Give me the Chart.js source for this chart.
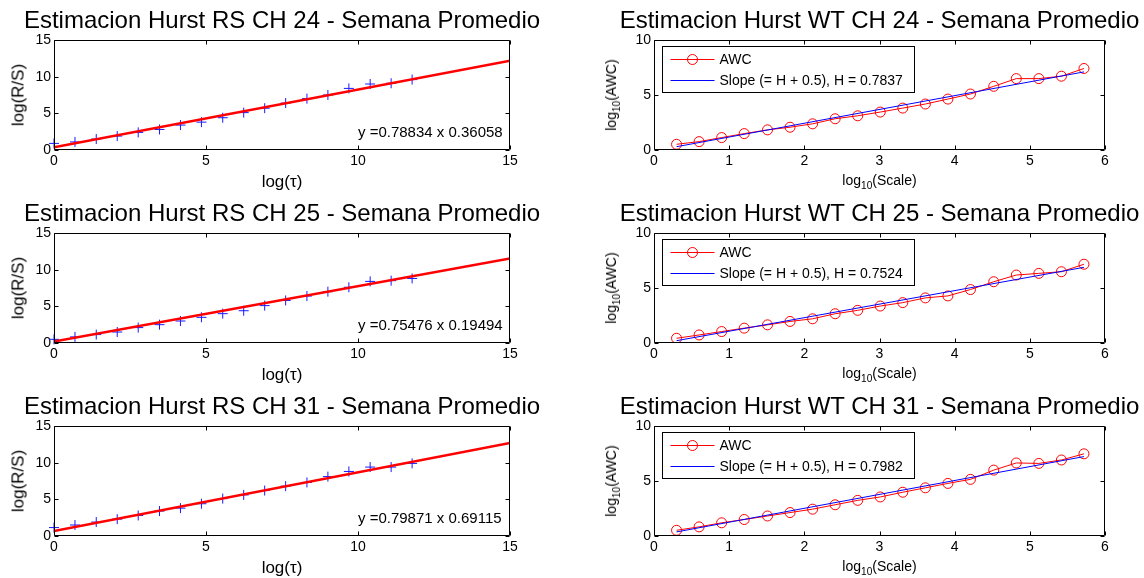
<!DOCTYPE html>
<html>
<head>
<meta charset="utf-8">
<script src="https://cdn.jsdelivr.net/npm/chart.js@4.4.0/dist/chart.umd.min.js"></script>
<style>
  body { margin: 0; background: #fff; font-family: "Liberation Sans", Arial, sans-serif; color: #000; }
  #page { position: relative; width: 1144px; height: 578px; overflow: hidden; }
  #page canvas { position: absolute; }
  .title { position: absolute; font-size: 24px; line-height: 24px; white-space: nowrap; transform: translateX(-50%); }
  .xlab, .ylab { position: absolute; white-space: nowrap; line-height: 1; }
  .xlab { transform: translate(-50%, -50%); }
  .ylab { transform: translate(-50%, -50%) rotate(-90deg); }
  sub { font-size: 72%; vertical-align: -0.35em; line-height: 0; }
</style>
</head>
<body>
<div id="page"></div>
<script>
// ---- R/S estimates (left column) ----
const rsTau = [0, 0.69, 1.39, 2.08, 2.77, 3.47, 4.16, 4.85, 5.55, 6.24, 6.93, 7.62, 8.32, 9.01, 9.70, 10.40, 11.09, 11.78];
const rsCh24 = [0.9, 1.1, 1.5, 1.9, 2.4, 2.8, 3.4, 3.8, 4.4, 5.1, 5.7, 6.4, 7.0, 7.5, 8.4, 9.0, 9.1, 9.6];
const rsCh25 = [0.5, 0.83, 1.15, 1.5, 2.1, 2.5, 3.0, 3.5, 4.0, 4.4, 5.1, 5.8, 6.4, 7.0, 7.6, 8.4, 8.5, 8.8];
const rsCh31 = [1.15, 1.5, 1.9, 2.3, 2.8, 3.4, 3.8, 4.4, 5.1, 5.6, 6.2, 6.8, 7.3, 8.1, 8.8, 9.4, 9.4, 9.9];

// fitted lines, end points at log(tau) = 0 and 15
const fitX = [0, 15];
const fitCh24 = [0.361, 12.186];
const fitCh25 = [0.195, 11.516];
const fitCh31 = [0.691, 12.672];
const eqCh24 = 'y =0.78834 x 0.36058';
const eqCh25 = 'y =0.75476 x 0.19494';
const eqCh31 = 'y =0.79871 x 0.69115';

const rsXTicks = [0, 5, 10, 15];
const rsYTicks = [0, 5, 10, 15];

// ---- wavelet estimates (right column) ----
const wtScale = [0.30, 0.60, 0.90, 1.20, 1.51, 1.81, 2.11, 2.41, 2.71, 3.01, 3.31, 3.61, 3.91, 4.21, 4.52, 4.82, 5.12, 5.42, 5.72];
const awcCh24 = [0.52, 0.76, 1.13, 1.49, 1.83, 2.07, 2.38, 2.84, 3.11, 3.45, 3.81, 4.18, 4.63, 5.09, 5.79, 6.49, 6.49, 6.71, 7.41];
const awcCh25 = [0.43, 0.73, 1.04, 1.35, 1.65, 1.96, 2.20, 2.66, 2.97, 3.36, 3.67, 4.10, 4.28, 4.86, 5.57, 6.18, 6.33, 6.48, 7.16];
const awcCh31 = [0.52, 0.83, 1.20, 1.50, 1.82, 2.13, 2.44, 2.84, 3.24, 3.55, 3.98, 4.38, 4.78, 5.15, 5.99, 6.64, 6.60, 6.91, 7.47];

const slopeX = [0.30, 5.72];
const slopeCh24 = [0.30, 7.10];
const slopeCh25 = [0.21, 6.88];
const slopeCh31 = [0.37, 7.22];
const hCh24 = '0.7837';
const hCh25 = '0.7524';
const hCh31 = '0.7982';

const wtXTicks = [0, 1, 2, 3, 4, 5, 6];
const wtYTicks = [0, 5, 10];

const FONT = '"Liberation Sans", Arial, sans-serif';
Chart.defaults.color = '#000';
Chart.defaults.font.family = FONT;

const toXY = (xs, ys) => xs.map((v, i) => ({ x: v, y: ys[i] }));

// box with inward ticks, equation text and a legend inside the axes
const framePlugin = {
    id: 'frame',
    afterDatasetsDraw(chart, args, opts) {
        const { ctx, chartArea: a, scales: { x, y } } = chart;
        const L = Math.round(a.left) + 0.5, R = Math.round(a.right) - 0.5;
        const T = Math.round(a.top) + 0.5, B = Math.round(a.bottom) - 0.5;
        ctx.save();
        ctx.strokeStyle = '#000';
        ctx.lineWidth = 1;
        ctx.beginPath();
        ctx.rect(L, T, R - L, B - T);
        x.ticks.forEach(t => {
            const px = Math.round(x.getPixelForValue(t.value)) + 0.5;
            ctx.moveTo(px, B); ctx.lineTo(px, B - 4);
            ctx.moveTo(px, T); ctx.lineTo(px, T + 4);
        });
        y.ticks.forEach(t => {
            const py = Math.round(y.getPixelForValue(t.value)) + 0.5;
            ctx.moveTo(L, py); ctx.lineTo(L + 4, py);
            ctx.moveTo(R, py); ctx.lineTo(R - 4, py);
        });
        ctx.stroke();

        if (opts.eq) {
            ctx.fillStyle = '#000';
            ctx.font = '15px ' + FONT;
            ctx.textBaseline = 'middle';
            ctx.textAlign = 'left';
            ctx.fillText(opts.eq.text, x.getPixelForValue(opts.eq.x), y.getPixelForValue(opts.eq.y));
        }

        if (opts.legend) {
            const bx = Math.round(a.left) + 8.5, by = Math.round(a.top) + 6.5, bw = 252, bh = 46;
            ctx.fillStyle = '#fff';
            ctx.fillRect(bx, by, bw, bh);
            ctx.strokeStyle = '#000';
            ctx.strokeRect(bx, by, bw, bh);
            ctx.font = '14px ' + FONT;
            ctx.textBaseline = 'middle';
            chart.data.datasets.forEach((ds, i) => {
                const ry = Math.round(by + 12 + i * 21) + 0.5;
                ctx.strokeStyle = ds.borderColor;
                ctx.lineWidth = 1;
                ctx.beginPath();
                ctx.moveTo(bx + 8, ry); ctx.lineTo(bx + 52, ry);
                ctx.stroke();
                if (ds.pointRadius > 0) {
                    ctx.beginPath();
                    ctx.arc(bx + 30, ry, 5, 0, Math.PI * 2);
                    ctx.stroke();
                }
                ctx.fillStyle = '#000';
                ctx.fillText(ds.label, bx + 57, ry + 1);
            });
        }
        ctx.restore();
    }
};

function axis(min, max, ticks, fixed, isY) {
    return {
        type: 'linear',
        min: min,
        max: max,
        grid: { display: false, drawTicks: false },
        border: { display: false },
        ticks: { font: { size: 14 }, padding: 3, autoSkip: false, maxRotation: 0 },
        afterBuildTicks: s => { s.ticks = ticks.map(v => ({ value: v })); },
        afterFit: s => {
            if (isY) s.width = fixed; else s.height = fixed;
            // keep the plot box where the layout padding puts it
            s.paddingLeft = s.paddingRight = s.paddingTop = s.paddingBottom = 0;
        }
    };
}

const page = document.getElementById('page');

function addText(cls, html, left, top, size) {
    const d = document.createElement('div');
    d.className = cls;
    d.innerHTML = html;
    d.style.left = left + 'px';
    d.style.top = top + 'px';
    if (size) d.style.fontSize = size + 'px';
    page.appendChild(d);
}

function makePanel(p) {
    const cv = document.createElement('canvas');
    cv.width = p.width;
    cv.height = 148;
    cv.style.left = p.left + 'px';
    cv.style.top = (p.top - 10) + 'px';
    page.appendChild(cv);

    new Chart(cv, {
        type: 'scatter',
        data: { datasets: p.datasets },
        options: {
            responsive: false,
            animation: false,
            events: [],
            layout: { padding: { top: 10, right: 10, left: 0, bottom: 0 } },
            scales: {
                x: axis(p.xr[0], p.xr[1], p.xt, 28, false),
                y: axis(p.yr[0], p.yr[1], p.yt, 54, true)
            },
            plugins: {
                legend: { display: false },
                tooltip: { enabled: false },
                frame: { eq: p.eq, legend: p.legend }
            }
        },
        plugins: [framePlugin]
    });

    const cx = p.left + 54 + (p.width - 64) / 2;
    addText('title', p.title, cx, p.top - 32);
    addText('xlab', p.xlab, cx, p.top + 110 + p.xlabDy, p.labSize);
    addText('ylab', p.ylab, p.ylabX, p.top + 55, p.labSize);
}

function rsPanel(ch, top, pts, fit, eq) {
    makePanel({
        left: 0, width: 520, top: top,
        title: 'Estimacion Hurst RS CH ' + ch + ' - Semana Promedio',
        xlab: 'log(τ)', ylab: 'log(R/S)', labSize: 17, xlabDy: 31, ylabX: 18,
        xr: [0, 15], yr: [0, 15], xt: rsXTicks, yt: rsYTicks,
        eq: { text: eq, x: 10, y: 2.3 },
        datasets: [
            { label: 'fit', data: toXY(fitX, fit), showLine: true, borderColor: '#ff0000', borderWidth: 2.5, pointRadius: 0, order: 0 },
            { label: 'R/S', data: toXY(rsTau, pts), showLine: false, clip: false, pointStyle: 'cross', pointRadius: 5, borderColor: '#1a1aff', pointBorderWidth: 1, order: 1 }
        ]
    });
}

function wtPanel(ch, top, awc, slope, h) {
    makePanel({
        left: 600, width: 515, top: top,
        title: 'Estimacion Hurst WT CH ' + ch + ' - Semana Promedio',
        xlab: 'log<sub>10</sub>(Scale)', ylab: 'log<sub>10</sub>(AWC)', labSize: 14, xlabDy: 30, ylabX: 611,
        xr: [0, 6], yr: [0, 10], xt: wtXTicks, yt: wtYTicks,
        legend: true,
        datasets: [
            { label: 'AWC', data: toXY(wtScale, awc), showLine: true, borderColor: '#ff0000', borderWidth: 1, pointStyle: 'circle', pointRadius: 5, pointBackgroundColor: 'rgba(0,0,0,0)', pointBorderWidth: 1, order: 1 },
            { label: 'Slope (= H + 0.5), H = ' + h, data: toXY(slopeX, slope), showLine: true, borderColor: '#0000ff', borderWidth: 1, pointRadius: 0, order: 0 }
        ]
    });
}

rsPanel(24, 40, rsCh24, fitCh24, eqCh24);
rsPanel(25, 233, rsCh25, fitCh25, eqCh25);
rsPanel(31, 426, rsCh31, fitCh31, eqCh31);
wtPanel(24, 40, awcCh24, slopeCh24, hCh24);
wtPanel(25, 233, awcCh25, slopeCh25, hCh25);
wtPanel(31, 426, awcCh31, slopeCh31, hCh31);
</script>
</body>
</html>
